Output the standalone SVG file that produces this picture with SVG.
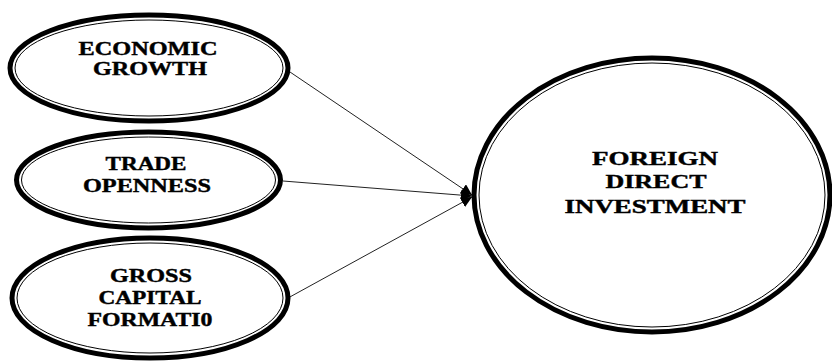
<svg xmlns="http://www.w3.org/2000/svg" width="832" height="363" viewBox="0 0 832 363">
<style>
.outer{fill:#fff;stroke:#000;stroke-width:5}
.inner{fill:none;stroke:#000;stroke-width:1}
.lbl{font-family:"Liberation Serif","Times New Roman",serif;font-weight:bold;font-size:18px;fill:#000;stroke:#000;stroke-width:0.4;text-anchor:middle}
.conn{stroke:#222;stroke-width:1;fill:none}
</style>
<defs>
<marker id="arr" viewBox="0 0 10 10" refX="10" refY="5" markerWidth="11" markerHeight="11" markerUnits="userSpaceOnUse" orient="auto">
<path d="M0,0 L10,5 L0,10 z" fill="#000"/>
</marker>
</defs>
<rect width="832" height="363" fill="#fff"/>
<g id="connectors">
<line class="conn" x1="290" y1="72" x2="472" y2="195" marker-end="url(#arr)"/>
<line class="conn" x1="283" y1="181" x2="472" y2="196" marker-end="url(#arr)"/>
<line class="conn" x1="288" y1="298" x2="472" y2="197" marker-end="url(#arr)"/>
</g>
<g id="economic-growth">
<ellipse class="outer" cx="149" cy="68" rx="139" ry="53"/>
<ellipse class="inner" cx="149" cy="68" rx="134" ry="48"/>
<text class="lbl" x="148" y="55" textLength="139" lengthAdjust="spacingAndGlyphs">ECONOMIC</text>
<text class="lbl" x="150" y="75" textLength="114" lengthAdjust="spacingAndGlyphs">GROWTH</text>
</g>
<g id="trade-openness">
<ellipse class="outer" cx="148.5" cy="180" rx="132" ry="48"/>
<ellipse class="inner" cx="148.5" cy="180" rx="127" ry="43"/>
<text class="lbl" x="146" y="170" textLength="81" lengthAdjust="spacingAndGlyphs">TRADE</text>
<text class="lbl" x="147" y="192" textLength="128" lengthAdjust="spacingAndGlyphs">OPENNESS</text>
</g>
<g id="gross-capital-formation">
<ellipse class="outer" cx="150" cy="298" rx="138" ry="60"/>
<ellipse class="inner" cx="150" cy="298" rx="133" ry="55"/>
<text class="lbl" x="151" y="282" textLength="82" lengthAdjust="spacingAndGlyphs">GROSS</text>
<text class="lbl" x="150" y="304" textLength="103" lengthAdjust="spacingAndGlyphs">CAPITAL</text>
<text class="lbl" x="150" y="326" textLength="125" lengthAdjust="spacingAndGlyphs">FORMATI0</text>
</g>
<g id="foreign-direct-investment">
<ellipse class="outer" cx="652" cy="195" rx="178" ry="137"/>
<ellipse class="inner" cx="652" cy="195" rx="173" ry="132"/>
<text class="lbl" x="655" y="165" textLength="126" lengthAdjust="spacingAndGlyphs">FOREIGN</text>
<text class="lbl" x="656" y="188" textLength="101" lengthAdjust="spacingAndGlyphs">DIRECT</text>
<text class="lbl" x="655" y="213" textLength="181" lengthAdjust="spacingAndGlyphs">INVESTMENT</text>
</g>
</svg>
